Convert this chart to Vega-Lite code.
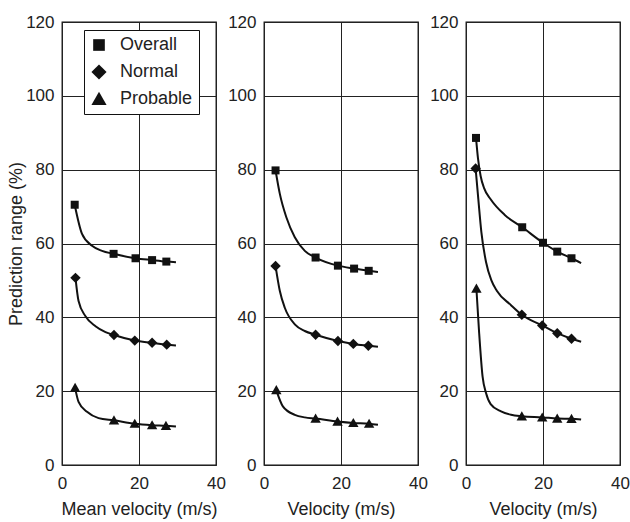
{
  "$schema": "https://vega.github.io/schema/vega-lite/v6.json",
  "padding": {"left": 6, "top": 12, "right": 5, "bottom": 5},
  "background": "white",
  "config": {
    "font": "Liberation Sans",
    "view": {"stroke": "#111", "strokeWidth": 1.3},
    "axis": {
      "grid": true, "gridColor": "#222", "gridWidth": 1, "gridOpacity": 1,
      "ticks": false, "tickSize": 0, "domain": false,
      "labelFont": "Liberation Sans", "labelFontSize": 17, "labelColor": "#222",
      "titleFont": "Liberation Sans", "titleFontSize": 18, "titleFontWeight": "normal", "titleColor": "#222"
    },
    "axisX": {"labelPadding": 10, "titlePadding": 9, "labelFlush": false},
    "axisY": {"labelPadding": 8, "titlePadding": 0}
  },
  "datasets": {
    "d": [
      {"p": 1, "s": "Overall", "k": "pt", "x": 3.3, "y": 70.5},
      {"p": 1, "s": "Overall", "k": "c", "x": 5.2, "y": 62.6},
      {"p": 1, "s": "Overall", "k": "c", "x": 7.8, "y": 59.4},
      {"p": 1, "s": "Overall", "k": "c", "x": 10.4, "y": 58.0},
      {"p": 1, "s": "Overall", "k": "pt", "x": 13.4, "y": 57.2},
      {"p": 1, "s": "Overall", "k": "pt", "x": 19.1, "y": 56.0},
      {"p": 1, "s": "Overall", "k": "pt", "x": 23.4, "y": 55.5},
      {"p": 1, "s": "Overall", "k": "pt", "x": 27.1, "y": 55.1},
      {"p": 1, "s": "Overall", "k": "c", "x": 29.6, "y": 54.9},
      {"p": 1, "s": "Normal", "k": "pt", "x": 3.5, "y": 50.7},
      {"p": 1, "s": "Normal", "k": "c", "x": 4.3, "y": 44.4},
      {"p": 1, "s": "Normal", "k": "c", "x": 6.1, "y": 40.3},
      {"p": 1, "s": "Normal", "k": "c", "x": 8.7, "y": 37.6},
      {"p": 1, "s": "Normal", "k": "c", "x": 11.3, "y": 36.0},
      {"p": 1, "s": "Normal", "k": "pt", "x": 13.5, "y": 35.2},
      {"p": 1, "s": "Normal", "k": "pt", "x": 18.9, "y": 33.7},
      {"p": 1, "s": "Normal", "k": "pt", "x": 23.4, "y": 33.1},
      {"p": 1, "s": "Normal", "k": "pt", "x": 27.2, "y": 32.6},
      {"p": 1, "s": "Normal", "k": "c", "x": 29.6, "y": 32.4},
      {"p": 1, "s": "Probable", "k": "pt", "x": 3.4, "y": 20.9},
      {"p": 1, "s": "Probable", "k": "c", "x": 4.3, "y": 17.1},
      {"p": 1, "s": "Probable", "k": "c", "x": 6.5, "y": 14.4},
      {"p": 1, "s": "Probable", "k": "c", "x": 9.5, "y": 12.7},
      {"p": 1, "s": "Probable", "k": "pt", "x": 13.5, "y": 12.1},
      {"p": 1, "s": "Probable", "k": "pt", "x": 18.9, "y": 11.2},
      {"p": 1, "s": "Probable", "k": "pt", "x": 23.4, "y": 10.8},
      {"p": 1, "s": "Probable", "k": "pt", "x": 27.0, "y": 10.6},
      {"p": 1, "s": "Probable", "k": "c", "x": 29.6, "y": 10.4},

      {"p": 2, "s": "Overall", "k": "pt", "x": 3.0, "y": 79.8},
      {"p": 2, "s": "Overall", "k": "c", "x": 4.1, "y": 73.5},
      {"p": 2, "s": "Overall", "k": "c", "x": 5.8, "y": 67.1},
      {"p": 2, "s": "Overall", "k": "c", "x": 8.0, "y": 61.7},
      {"p": 2, "s": "Overall", "k": "c", "x": 10.6, "y": 58.0},
      {"p": 2, "s": "Overall", "k": "pt", "x": 13.4, "y": 56.2},
      {"p": 2, "s": "Overall", "k": "pt", "x": 19.2, "y": 54.0},
      {"p": 2, "s": "Overall", "k": "pt", "x": 23.4, "y": 53.2},
      {"p": 2, "s": "Overall", "k": "pt", "x": 27.2, "y": 52.6},
      {"p": 2, "s": "Overall", "k": "c", "x": 29.6, "y": 52.3},
      {"p": 2, "s": "Normal", "k": "pt", "x": 3.0, "y": 53.9},
      {"p": 2, "s": "Normal", "k": "c", "x": 4.1, "y": 47.2},
      {"p": 2, "s": "Normal", "k": "c", "x": 5.4, "y": 42.6},
      {"p": 2, "s": "Normal", "k": "c", "x": 8.0, "y": 38.1},
      {"p": 2, "s": "Normal", "k": "c", "x": 10.6, "y": 36.3},
      {"p": 2, "s": "Normal", "k": "pt", "x": 13.4, "y": 35.3},
      {"p": 2, "s": "Normal", "k": "pt", "x": 19.2, "y": 33.6},
      {"p": 2, "s": "Normal", "k": "pt", "x": 23.2, "y": 32.8},
      {"p": 2, "s": "Normal", "k": "pt", "x": 27.1, "y": 32.3},
      {"p": 2, "s": "Normal", "k": "c", "x": 29.6, "y": 32.0},
      {"p": 2, "s": "Probable", "k": "pt", "x": 3.2, "y": 20.3},
      {"p": 2, "s": "Probable", "k": "c", "x": 4.9, "y": 15.9},
      {"p": 2, "s": "Probable", "k": "c", "x": 8.0, "y": 13.6},
      {"p": 2, "s": "Probable", "k": "c", "x": 10.6, "y": 12.9},
      {"p": 2, "s": "Probable", "k": "pt", "x": 13.4, "y": 12.6},
      {"p": 2, "s": "Probable", "k": "pt", "x": 19.1, "y": 11.8},
      {"p": 2, "s": "Probable", "k": "pt", "x": 23.2, "y": 11.4},
      {"p": 2, "s": "Probable", "k": "pt", "x": 27.3, "y": 11.2},
      {"p": 2, "s": "Probable", "k": "c", "x": 29.6, "y": 10.9},

      {"p": 3, "s": "Overall", "k": "pt", "x": 2.6, "y": 88.6},
      {"p": 3, "s": "Overall", "k": "c", "x": 3.1, "y": 83.2},
      {"p": 3, "s": "Overall", "k": "c", "x": 3.8, "y": 78.3},
      {"p": 3, "s": "Overall", "k": "c", "x": 4.7, "y": 75.0},
      {"p": 3, "s": "Overall", "k": "c", "x": 6.4, "y": 72.0},
      {"p": 3, "s": "Overall", "k": "c", "x": 10.0, "y": 67.8},
      {"p": 3, "s": "Overall", "k": "pt", "x": 14.6, "y": 64.4},
      {"p": 3, "s": "Overall", "k": "pt", "x": 20.0, "y": 60.2},
      {"p": 3, "s": "Overall", "k": "pt", "x": 23.7, "y": 57.8},
      {"p": 3, "s": "Overall", "k": "pt", "x": 27.4, "y": 56.0},
      {"p": 3, "s": "Overall", "k": "c", "x": 29.9, "y": 54.7},
      {"p": 3, "s": "Normal", "k": "pt", "x": 2.5, "y": 80.3},
      {"p": 3, "s": "Normal", "k": "c", "x": 3.2, "y": 72.0},
      {"p": 3, "s": "Normal", "k": "c", "x": 4.0, "y": 63.0},
      {"p": 3, "s": "Normal", "k": "c", "x": 5.2, "y": 55.0},
      {"p": 3, "s": "Normal", "k": "c", "x": 6.6, "y": 50.0},
      {"p": 3, "s": "Normal", "k": "c", "x": 8.0, "y": 47.2},
      {"p": 3, "s": "Normal", "k": "c", "x": 11.7, "y": 43.3},
      {"p": 3, "s": "Normal", "k": "pt", "x": 14.5, "y": 40.7},
      {"p": 3, "s": "Normal", "k": "pt", "x": 19.8, "y": 37.8},
      {"p": 3, "s": "Normal", "k": "pt", "x": 23.7, "y": 35.7},
      {"p": 3, "s": "Normal", "k": "pt", "x": 27.4, "y": 34.2},
      {"p": 3, "s": "Normal", "k": "c", "x": 29.9, "y": 33.4},
      {"p": 3, "s": "Probable", "k": "pt", "x": 2.7, "y": 47.8},
      {"p": 3, "s": "Probable", "k": "c", "x": 3.4, "y": 36.0},
      {"p": 3, "s": "Probable", "k": "c", "x": 4.3, "y": 24.0},
      {"p": 3, "s": "Probable", "k": "c", "x": 5.2, "y": 19.5},
      {"p": 3, "s": "Probable", "k": "c", "x": 6.4, "y": 16.5},
      {"p": 3, "s": "Probable", "k": "c", "x": 9.1, "y": 14.5},
      {"p": 3, "s": "Probable", "k": "c", "x": 11.7, "y": 13.6},
      {"p": 3, "s": "Probable", "k": "pt", "x": 14.5, "y": 13.2},
      {"p": 3, "s": "Probable", "k": "pt", "x": 19.8, "y": 12.9},
      {"p": 3, "s": "Probable", "k": "pt", "x": 23.7, "y": 12.6},
      {"p": 3, "s": "Probable", "k": "pt", "x": 27.4, "y": 12.5},
      {"p": 3, "s": "Probable", "k": "c", "x": 29.9, "y": 12.3}
    ]
  },
  "spacing": 48,
  "bounds": "flush",
  "resolve": {"scale": {"shape": "independent"}, "legend": {"shape": "independent"}},
  "hconcat": [
    {
      "width": 154, "height": 443,
      "data": {"name": "d"},
      "transform": [{"filter": "datum.p == 1"}],
      "layer": [
        {
          "mark": {"type": "line", "interpolate": "monotone", "color": "#111", "strokeWidth": 2},
          "encoding": {
            "x": {"field": "x", "type": "quantitative", "scale": {"domain": [0, 40], "nice": false}, "axis": {"values": [0, 20, 40], "title": "Mean velocity (m/s)"}},
            "y": {"field": "y", "type": "quantitative", "scale": {"domain": [0, 120], "nice": false}, "axis": {"values": [0, 20, 40, 60, 80, 100, 120], "title": "Prediction range (%)"}},
            "detail": {"field": "s"}
          }
        },
        {
          "transform": [{"filter": "datum.k == 'pt'"}],
          "mark": {"type": "point", "filled": true, "color": "#111", "opacity": 1, "size": 64},
          "encoding": {
            "x": {"field": "x", "type": "quantitative"},
            "y": {"field": "y", "type": "quantitative"},
            "shape": {"field": "s", "type": "nominal", "scale": {"domain": ["Overall", "Normal", "Probable"], "range": ["square", "M-1.3 0L0 -1.3L1.3 0L0 1.3Z", "M0 -1.25L1.3 1.05L-1.3 1.05Z"]},
              "legend": {"title": null, "orient": "none", "legendX": 22, "legendY": 8, "strokeColor": "#111", "fillColor": "white", "padding": 6, "labelFontSize": 18, "labelFont": "Liberation Sans", "labelColor": "#222", "labelOffset": 12, "symbolSize": 136, "symbolFillColor": "#111", "symbolStrokeColor": "#111", "symbolStrokeWidth": 0, "rowPadding": 9}}
          }
        }
      ]
    },
    {
      "width": 154, "height": 443,
      "data": {"name": "d"},
      "transform": [{"filter": "datum.p == 2"}],
      "layer": [
        {
          "mark": {"type": "line", "interpolate": "monotone", "color": "#111", "strokeWidth": 2},
          "encoding": {
            "x": {"field": "x", "type": "quantitative", "scale": {"domain": [0, 40], "nice": false}, "axis": {"values": [0, 20, 40], "title": "Velocity (m/s)"}},
            "y": {"field": "y", "type": "quantitative", "scale": {"domain": [0, 120], "nice": false}, "axis": {"values": [0, 20, 40, 60, 80, 100, 120], "title": null}},
            "detail": {"field": "s"}
          }
        },
        {
          "transform": [{"filter": "datum.k == 'pt'"}],
          "mark": {"type": "point", "filled": true, "color": "#111", "opacity": 1, "size": 64},
          "encoding": {
            "x": {"field": "x", "type": "quantitative"},
            "y": {"field": "y", "type": "quantitative"},
            "shape": {"field": "s", "type": "nominal", "scale": {"domain": ["Overall", "Normal", "Probable"], "range": ["square", "M-1.3 0L0 -1.3L1.3 0L0 1.3Z", "M0 -1.25L1.3 1.05L-1.3 1.05Z"]}, "legend": null}
          }
        }
      ]
    },
    {
      "width": 154, "height": 443,
      "data": {"name": "d"},
      "transform": [{"filter": "datum.p == 3"}],
      "layer": [
        {
          "mark": {"type": "line", "interpolate": "monotone", "color": "#111", "strokeWidth": 2},
          "encoding": {
            "x": {"field": "x", "type": "quantitative", "scale": {"domain": [0, 40], "nice": false}, "axis": {"values": [0, 20, 40], "title": "Velocity (m/s)"}},
            "y": {"field": "y", "type": "quantitative", "scale": {"domain": [0, 120], "nice": false}, "axis": {"values": [0, 20, 40, 60, 80, 100, 120], "title": null}},
            "detail": {"field": "s"}
          }
        },
        {
          "transform": [{"filter": "datum.k == 'pt'"}],
          "mark": {"type": "point", "filled": true, "color": "#111", "opacity": 1, "size": 64},
          "encoding": {
            "x": {"field": "x", "type": "quantitative"},
            "y": {"field": "y", "type": "quantitative"},
            "shape": {"field": "s", "type": "nominal", "scale": {"domain": ["Overall", "Normal", "Probable"], "range": ["square", "M-1.3 0L0 -1.3L1.3 0L0 1.3Z", "M0 -1.25L1.3 1.05L-1.3 1.05Z"]}, "legend": null}
          }
        }
      ]
    }
  ]
}
